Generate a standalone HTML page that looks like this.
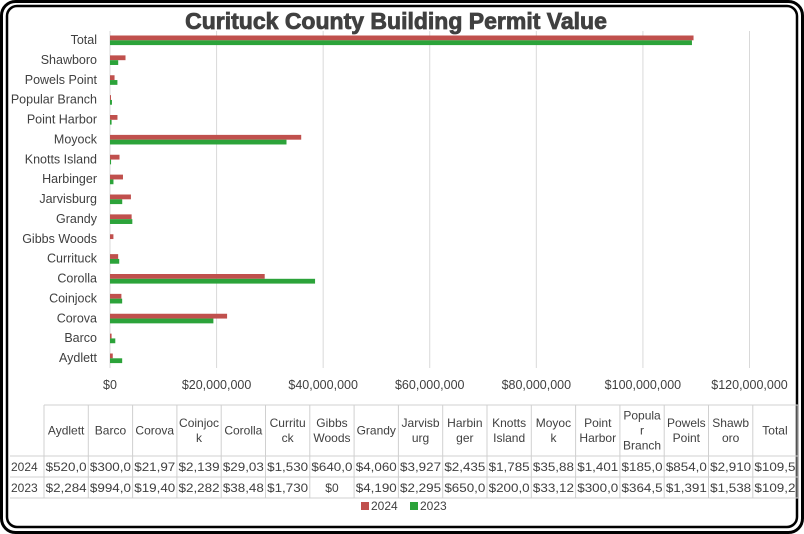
<!DOCTYPE html>
<html><head><meta charset="utf-8"><style>
body{margin:0;background:#fff;}
svg{display:block;font-family:"Liberation Sans",sans-serif;}
</style></head><body>
<svg id="c" width="804" height="534" xmlns="http://www.w3.org/2000/svg">
<rect x="1.5" y="1.5" width="801" height="531" rx="14" fill="none" stroke="#000" stroke-width="3"/>
<rect x="7" y="6" width="790" height="521" rx="10" fill="none" stroke="#000" stroke-width="2.5"/>
<text x="396" y="29" text-anchor="middle" font-size="23" font-weight="bold" fill="#404040" stroke="#404040" stroke-width="0.8">Curituck County Building Permit Value</text>
<g id="grid"></g><g id="bars"></g><g id="labels"></g><g id="table"></g>
<g>
<rect x="361" y="502" width="8" height="8" fill="#c0504d"/>
<text x="371" y="510" font-size="12" fill="#404040">2024</text>
<rect x="410" y="502" width="8" height="8" fill="#2ca33a"/>
<text x="420" y="510" font-size="12" fill="#404040">2023</text>
</g>
</svg>
<script>
const categories=["Aydlett","Barco","Corova","Coinjock","Corolla","Currituck","Gibbs Woods","Grandy","Jarvisburg","Harbinger","Knotts Island","Moyock","Point Harbor","Popular Branch","Powels Point","Shawboro","Total"];
const values2024=[0.52,0.3,21.97,2.139,29.03,1.53,0.64,4.06,3.927,2.435,1.785,35.88,1.401,0.185,0.854,2.91,109.5];
const values2023=[2.284,0.994,19.40,2.282,38.48,1.73,0,4.19,2.295,0.65,0.2,33.12,0.3,0.3645,1.391,1.538,109.2];
const xTicks=[0,20,40,60,80,100,120];
const xTickLabels=["$0","$20,000,000","$40,000,000","$60,000,000","$80,000,000","$100,000,000","$120,000,000"];
const headers=[["Aydlett"],["Barco"],["Corova"],["Coinjoc","k"],["Corolla"],["Curritu","ck"],["Gibbs","Woods"],["Grandy"],["Jarvisb","urg"],["Harbin","ger"],["Knotts","Island"],["Moyoc","k"],["Point","Harbor"],["Popula","r","Branch"],["Powels","Point"],["Shawb","oro"],["Total"]];
const row2024=["$520,0","$300,0","$21,97","$2,139","$29,03","$1,530","$640,0","$4,060","$3,927","$2,435","$1,785","$35,88","$1,401","$185,0","$854,0","$2,910","$109,5"];
const row2023=["$2,284","$994,0","$19,40","$2,282","$38,48","$1,730","$0","$4,190","$2,295","$650,0","$200,0","$33,12","$300,0","$364,5","$1,391","$1,538","$109,2"];

const NS="http://www.w3.org/2000/svg";
function mk(p,t,a){const e=document.createElementNS(NS,t);for(const k in a)e.setAttribute(k,a[k]);document.getElementById(p).appendChild(e);return e;}
const xs=v=>110+v*(639.5/120);
const nCat=categories.length;
const ys=i=>358-i*((358-40)/(nCat-1));
xTicks.forEach((t,i)=>{
  if(i>0){const g=mk("grid","line",{x1:xs(t),x2:xs(t),y1:31,y2:368,stroke:"#d9d9d9","stroke-width":1});
  
  }
  const tl=mk("labels","text",{x:xs(t),y:389,"text-anchor":"middle","font-size":12.5,fill:"#404040"});
  tl.textContent=xTickLabels[i];
  
  
});
const ax=mk("grid","line",{x1:110,x2:110,y1:31,y2:368,stroke:"#d9d9d9"});


categories.forEach((c,i)=>{
  const cy=ys(i);
  const r=mk("bars","rect",{x:110,y:cy-4.5,width:Math.max(0,xs(values2024[i])-110),height:4.8,fill:"#c0504d"});
  
  
  const g=mk("bars","rect",{x:110,y:cy+0.3,width:Math.max(0,xs(values2023[i])-110),height:4.8,fill:"#2ca33a"});
  
  
  const t=mk("labels","text",{x:97,y:cy+4,"text-anchor":"end","font-size":12.5,fill:"#404040"});
  t.textContent=c;
  
  
});
const cw=44.3,tx0=44,tableTop=405,hb=456,r1=477,r2=498;
const lc="#d0d0d0";
[tableTop,hb,r1,r2].forEach((yy,k)=>{const l=mk("table","line",{x1:k==0?tx0:10,x2:798,y1:yy,y2:yy,stroke:lc});

});
for(let j=0;j<=17;j++){const l=mk("table","line",{x1:tx0+j*cw,x2:tx0+j*cw,y1:tableTop,y2:r2,stroke:lc});

}
headers.forEach((h,j)=>{
  const cx=tx0+j*cw+cw/2;const lh=15;const sy=(tableTop+hb)/2-(h.length-1)*lh/2+4;
  h.forEach((s,k)=>{const t=mk("table","text",{x:cx,y:sy+k*lh,"text-anchor":"middle","font-size":12,fill:"#404040"});
  t.textContent=s;
  
  });
  [[row2024,hb],[row2023,r1]].forEach(([row,yy])=>{
    const attrs={x:cx,y:yy+15,"text-anchor":"middle","font-size":12,fill:"#404040"};
    if(row[j].length>3){attrs.textLength=41;attrs.lengthAdjust="spacingAndGlyphs";}
    const t=mk("table","text",attrs);
    t.textContent=row[j];
    
    
  });
});
[["2024",hb],["2023",r1]].forEach(([s,yy])=>{const t=mk("table","text",{x:11,y:yy+15,"font-size":12,fill:"#404040"});
t.textContent=s;

});
</script>
</body></html>
